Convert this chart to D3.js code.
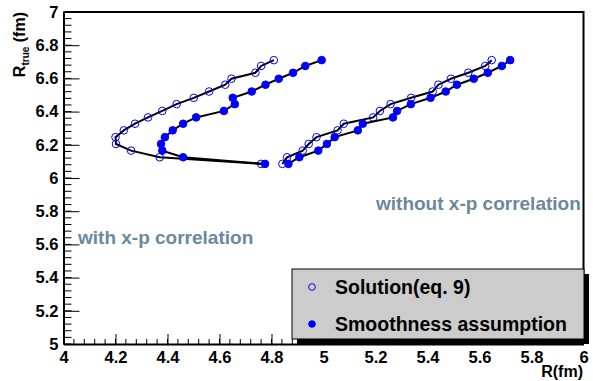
<!DOCTYPE html>
<html>
<head>
<meta charset="utf-8">
<script src="https://cdn.jsdelivr.net/npm/d3@7"></script>
<style>
  body { margin: 0; background: #fff; }
  svg { display: block; font-family: "Liberation Sans", Arial, sans-serif; font-weight: bold; }
</style>
</head>
<body>
<svg width="593" height="381"></svg>
<script>
// shared R_true values (fm), one per point, top to bottom
var rTrue = [6.71, 6.675, 6.634, 6.598, 6.562, 6.521, 6.483, 6.445, 6.404,
             6.365, 6.327, 6.287, 6.246, 6.205, 6.165, 6.125, 6.085];

// with x-p correlation
var leftSolution = [4.809, 4.760, 4.738, 4.646, 4.622, 4.560, 4.501, 4.435, 4.38,
                    4.325, 4.275, 4.232, 4.200, 4.202, 4.26, 4.37, 4.76];
var leftSmooth = [4.993, 4.930, 4.883, 4.828, 4.777, 4.724, 4.651, 4.659, 4.617,
                  4.510, 4.460, 4.42, 4.39, 4.375, 4.38, 4.46, 4.775];

// without x-p correlation
var rightSolution = [5.647, 5.622, 5.557, 5.490, 5.442, 5.420, 5.337, 5.258, 5.217,
                     5.191, 5.078, 5.054, 4.973, 4.943, 4.920, 4.860, 4.842];
var rightSmooth = [5.718, 5.686, 5.632, 5.578, 5.513, 5.470, 5.412, 5.336, 5.283,
                   5.267, 5.151, 5.132, 5.043, 5.013, 4.980, 4.907, 4.865];

var xMajor = d3.range(4, 6.0001, 0.2);
var yMajor = d3.range(5, 7.0001, 0.2);
var legendLabels = ["Solution(eq. 9)", "Smoothness assumption"];

var svg = d3.select("svg");
var x = d3.scaleLinear().domain([4, 6]).range([63.5, 583.5]);
var y = d3.scaleLinear().domain([5, 7]).range([344, 12]);
var fmt = function(d) { return d3.format("~g")(+d.toFixed(2)); };

// minor ticks
var g = svg.append("g").attr("stroke", "#000").attr("stroke-width", 1);
g.selectAll(".xm").data(d3.range(4, 6.0001, 0.04)).enter().append("line")
    .attr("x1", function(d) { return x(d); }).attr("x2", function(d) { return x(d); })
    .attr("y1", y(5)).attr("y2", y(5) - 5);
g.selectAll(".ym").data(d3.range(5, 7.0001, 0.04)).enter().append("line")
    .attr("y1", function(d) { return y(d); }).attr("y2", function(d) { return y(d); })
    .attr("x1", x(4)).attr("x2", x(4) + 8);

var xAxis = svg.append("g").attr("transform", "translate(0," + y(5) + ")")
    .call(d3.axisBottom(x).tickValues(xMajor).tickFormat(fmt).tickSize(-10).tickSizeOuter(0).tickPadding(4));
var yAxis = svg.append("g").attr("transform", "translate(" + x(4) + ",0)")
    .call(d3.axisLeft(y).tickValues(yMajor).tickFormat(fmt).tickSize(-16).tickSizeOuter(0).tickPadding(5));
svg.selectAll(".tick text").attr("font-size", 16.5).attr("font-family", "Liberation Sans").attr("font-weight", "bold").attr("fill", "#000");
svg.selectAll(".domain").attr("stroke-width", 2);
xAxis.selectAll(".tick text").attr("dy", "0.9em");

// frame top/right
svg.append("path").attr("fill", "none").attr("stroke", "#000").attr("stroke-width", 2)
    .attr("d", "M" + x(4) + "," + y(7) + "H" + x(6) + "V" + y(5));

// axis titles
svg.append("text").attr("x", 583).attr("y", 377).attr("text-anchor", "end")
    .attr("font-size", 16).text("R(fm)");
var yt = svg.append("text").attr("transform", "translate(25," + y(7) + ") rotate(-90)")
    .attr("text-anchor", "end").attr("font-size", 16);
yt.append("tspan").text("R");
yt.append("tspan").attr("font-size", 10).attr("dy", 4).text("true");
yt.append("tspan").attr("dy", -4).text(" (fm)");

// graphs
var line = d3.line().x(function(d) { return x(d[0]); }).y(function(d) { return y(d[1]); });
function drawGraph(xs, filled) {
  var pts = xs.map(function(v, i) { return [v, rTrue[i]]; });
  svg.append("path").datum(pts).attr("d", line)
      .attr("fill", "none").attr("stroke", "#000").attr("stroke-width", 2);
  svg.append("g").selectAll("circle").data(pts).enter().append("circle")
      .attr("cx", function(d) { return x(d[0]); })
      .attr("cy", function(d) { return y(d[1]); })
      .attr("r", 3.8)
      .attr("fill", filled ? "#0000ff" : "none")
      .attr("stroke", "#0000ff").attr("stroke-width", 1);
}
drawGraph(leftSolution, false);
drawGraph(leftSmooth, true);
drawGraph(rightSolution, false);
drawGraph(rightSmooth, true);

// annotations
svg.append("text").attr("x", 78).attr("y", 244).attr("font-size", 19).attr("fill", "#6c889d")
    .text("with x-p correlation");
svg.append("text").attr("x", 376).attr("y", 210).attr("font-size", 19).attr("fill", "#6c889d")
    .text("without x-p correlation");

// legend
var lx = 292, ly = 269, lw = 292, lh = 70;
svg.append("rect").attr("x", lx + 5).attr("y", ly + 5).attr("width", lw).attr("height", lh).attr("fill", "#000");
svg.append("rect").attr("x", lx).attr("y", ly).attr("width", lw).attr("height", lh)
    .attr("fill", "#cccccc").attr("stroke", "#000").attr("stroke-width", 1);
legendLabels.forEach(function(lab, i) {
  var cy = ly + 18 + i * 37;
  svg.append("circle").attr("cx", 312).attr("cy", cy).attr("r", 3.3)
      .attr("fill", i ? "#0000ff" : "#cccccc").attr("stroke", "#0000ff").attr("stroke-width", 1);
  svg.append("text").attr("x", 335).attr("y", cy + 7).attr("font-size", 19.5).attr("fill", "#000").text(lab);
});
</script>
</body>
</html>
